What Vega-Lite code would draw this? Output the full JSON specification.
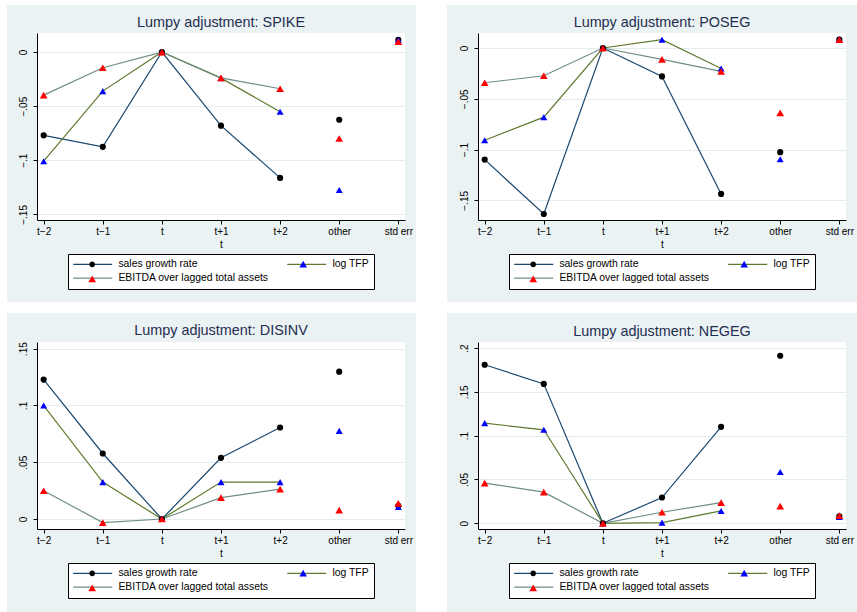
{
  "$schema": "https://vega.github.io/schema/vega-lite/v6.json",
  "background": "#eaf2f3",
  "padding": 0,
  "datasets": {
    "d": [
      {"p":"SPIKE","s":"sales growth rate","t":"t−2","v":-0.077},
      {"p":"SPIKE","s":"sales growth rate","t":"t−1","v":-0.0876},
      {"p":"SPIKE","s":"sales growth rate","t":"t","v":0},
      {"p":"SPIKE","s":"sales growth rate","t":"t+1","v":-0.068},
      {"p":"SPIKE","s":"sales growth rate","t":"t+2","v":-0.1163},
      {"p":"SPIKE","s":"sales growth rate","t":"other","v":-0.0626},
      {"p":"SPIKE","s":"sales growth rate","t":"std err","v":0.0114},
      {"p":"SPIKE","s":"log TFP","t":"t−2","v":-0.1009},
      {"p":"SPIKE","s":"log TFP","t":"t−1","v":-0.0361},
      {"p":"SPIKE","s":"log TFP","t":"t","v":0},
      {"p":"SPIKE","s":"log TFP","t":"t+1","v":-0.0241},
      {"p":"SPIKE","s":"log TFP","t":"t+2","v":-0.0552},
      {"p":"SPIKE","s":"log TFP","t":"other","v":-0.1275},
      {"p":"SPIKE","s":"log TFP","t":"std err","v":0.0114},
      {"p":"SPIKE","s":"EBITDA over lagged total assets","t":"t−2","v":-0.0398},
      {"p":"SPIKE","s":"EBITDA over lagged total assets","t":"t−1","v":-0.0145},
      {"p":"SPIKE","s":"EBITDA over lagged total assets","t":"t","v":0},
      {"p":"SPIKE","s":"EBITDA over lagged total assets","t":"t+1","v":-0.0238},
      {"p":"SPIKE","s":"EBITDA over lagged total assets","t":"t+2","v":-0.0339},
      {"p":"SPIKE","s":"EBITDA over lagged total assets","t":"other","v":-0.0799},
      {"p":"SPIKE","s":"EBITDA over lagged total assets","t":"std err","v":0.0096},

      {"p":"POSEG","s":"sales growth rate","t":"t−2","v":-0.1099},
      {"p":"POSEG","s":"sales growth rate","t":"t−1","v":-0.1635},
      {"p":"POSEG","s":"sales growth rate","t":"t","v":0},
      {"p":"POSEG","s":"sales growth rate","t":"t+1","v":-0.028},
      {"p":"POSEG","s":"sales growth rate","t":"t+2","v":-0.1437},
      {"p":"POSEG","s":"sales growth rate","t":"other","v":-0.1026},
      {"p":"POSEG","s":"sales growth rate","t":"std err","v":0.0082},
      {"p":"POSEG","s":"log TFP","t":"t−2","v":-0.0908},
      {"p":"POSEG","s":"log TFP","t":"t−1","v":-0.0681},
      {"p":"POSEG","s":"log TFP","t":"t","v":0},
      {"p":"POSEG","s":"log TFP","t":"t+1","v":0.0082},
      {"p":"POSEG","s":"log TFP","t":"t+2","v":-0.0201},
      {"p":"POSEG","s":"log TFP","t":"other","v":-0.1095},
      {"p":"POSEG","s":"log TFP","t":"std err","v":0.0086},
      {"p":"POSEG","s":"EBITDA over lagged total assets","t":"t−2","v":-0.0342},
      {"p":"POSEG","s":"EBITDA over lagged total assets","t":"t−1","v":-0.0273},
      {"p":"POSEG","s":"EBITDA over lagged total assets","t":"t","v":0},
      {"p":"POSEG","s":"EBITDA over lagged total assets","t":"t+1","v":-0.0112},
      {"p":"POSEG","s":"EBITDA over lagged total assets","t":"t+2","v":-0.023},
      {"p":"POSEG","s":"EBITDA over lagged total assets","t":"other","v":-0.0638},
      {"p":"POSEG","s":"EBITDA over lagged total assets","t":"std err","v":0.0082},

      {"p":"DISINV","s":"sales growth rate","t":"t−2","v":0.1228},
      {"p":"DISINV","s":"sales growth rate","t":"t−1","v":0.0577},
      {"p":"DISINV","s":"sales growth rate","t":"t","v":0},
      {"p":"DISINV","s":"sales growth rate","t":"t+1","v":0.0539},
      {"p":"DISINV","s":"sales growth rate","t":"t+2","v":0.0806},
      {"p":"DISINV","s":"sales growth rate","t":"other","v":0.1298},
      {"p":"DISINV","s":"sales growth rate","t":"std err","v":0.0117},
      {"p":"DISINV","s":"log TFP","t":"t−2","v":0.0999},
      {"p":"DISINV","s":"log TFP","t":"t−1","v":0.0325},
      {"p":"DISINV","s":"log TFP","t":"t","v":0},
      {"p":"DISINV","s":"log TFP","t":"t+1","v":0.0325},
      {"p":"DISINV","s":"log TFP","t":"t+2","v":0.0325},
      {"p":"DISINV","s":"log TFP","t":"other","v":0.0776},
      {"p":"DISINV","s":"log TFP","t":"std err","v":0.0105},
      {"p":"DISINV","s":"EBITDA over lagged total assets","t":"t−2","v":0.0249},
      {"p":"DISINV","s":"EBITDA over lagged total assets","t":"t−1","v":-0.0032},
      {"p":"DISINV","s":"EBITDA over lagged total assets","t":"t","v":0},
      {"p":"DISINV","s":"EBITDA over lagged total assets","t":"t+1","v":0.0188},
      {"p":"DISINV","s":"EBITDA over lagged total assets","t":"t+2","v":0.0264},
      {"p":"DISINV","s":"EBITDA over lagged total assets","t":"other","v":0.0079},
      {"p":"DISINV","s":"EBITDA over lagged total assets","t":"std err","v":0.0138},

      {"p":"NEGEG","s":"sales growth rate","t":"t−2","v":0.1809},
      {"p":"NEGEG","s":"sales growth rate","t":"t−1","v":0.1591},
      {"p":"NEGEG","s":"sales growth rate","t":"t","v":0},
      {"p":"NEGEG","s":"sales growth rate","t":"t+1","v":0.0294},
      {"p":"NEGEG","s":"sales growth rate","t":"t+2","v":0.1101},
      {"p":"NEGEG","s":"sales growth rate","t":"other","v":0.1912},
      {"p":"NEGEG","s":"sales growth rate","t":"std err","v":0.008},
      {"p":"NEGEG","s":"log TFP","t":"t−2","v":0.1143},
      {"p":"NEGEG","s":"log TFP","t":"t−1","v":0.1067},
      {"p":"NEGEG","s":"log TFP","t":"t","v":0},
      {"p":"NEGEG","s":"log TFP","t":"t+1","v":0.0008},
      {"p":"NEGEG","s":"log TFP","t":"t+2","v":0.0141},
      {"p":"NEGEG","s":"log TFP","t":"other","v":0.0585},
      {"p":"NEGEG","s":"log TFP","t":"std err","v":0.0073},
      {"p":"NEGEG","s":"EBITDA over lagged total assets","t":"t−2","v":0.0459},
      {"p":"NEGEG","s":"EBITDA over lagged total assets","t":"t−1","v":0.0356},
      {"p":"NEGEG","s":"EBITDA over lagged total assets","t":"t","v":0},
      {"p":"NEGEG","s":"EBITDA over lagged total assets","t":"t+1","v":0.0126},
      {"p":"NEGEG","s":"EBITDA over lagged total assets","t":"t+2","v":0.0237},
      {"p":"NEGEG","s":"EBITDA over lagged total assets","t":"other","v":0.0195},
      {"p":"NEGEG","s":"EBITDA over lagged total assets","t":"std err","v":0.0088}
    ]
  },
  "config": {
    "font": "Liberation Sans",
    "view": {"stroke": null},
    "title": {"font": "Liberation Sans", "fontSize": 14.4, "fontWeight": "normal", "color": "#1f2d50", "offset": 3, "anchor": "middle"},
    "axis": {"labelFont": "Liberation Sans", "labelFontSize": 10, "labelColor": "black", "domainColor": "black", "tickColor": "black", "tickSize": 4, "titleFont": "Liberation Sans", "titleFontSize": 10, "titleFontWeight": "normal", "titleColor": "black", "gridColor": "#e3ecee", "domainWidth": 1, "tickWidth": 1},
    "axisX": {"grid": false, "labelAngle": 0, "labelPadding": 2, "titlePadding": 3},
    "axisY": {"grid": true, "labelAngle": -90, "labelAlign": "center", "labelBaseline": "bottom", "labelPadding": 5},
    "legend": {"labelFont": "Liberation Sans", "orient": "none", "direction": "horizontal", "legendX": 31, "legendY": 221, "columns": 2, "columnPadding": 15, "rowPadding": 3, "padding": 5, "strokeColor": "black", "fillColor": "white", "symbolSize": 64, "symbolStrokeWidth": 1.2, "labelOffset": 35, "labelFontSize": 10.4, "labelColor": "black", "labelLimit": 0}
  },
  "resolve": {"scale": {"fill": "independent", "stroke": "independent", "shape": "independent", "size": "independent"}, "legend": {"fill": "independent", "stroke": "independent", "shape": "independent", "size": "independent"}},
  "columns": 8,
  "align": "each",
  "bounds": "flush",
  "spacing": 0,
  "concat": [
    {"width": 7, "height": 5, "data": {"values": []}, "mark": "point", "encoding": {}, "view": {"fill": "white"}},
    {"width": 30, "height": 5, "data": {"values": []}, "mark": "point", "encoding": {}, "view": {"fill": "white"}},
    {"width": 368, "height": 5, "data": {"values": []}, "mark": "point", "encoding": {}, "view": {"fill": "white"}},
    {"width": 11, "height": 5, "data": {"values": []}, "mark": "point", "encoding": {}, "view": {"fill": "white"}},
    {"width": 31, "height": 5, "data": {"values": []}, "mark": "point", "encoding": {}, "view": {"fill": "white"}},
    {"width": 31, "height": 5, "data": {"values": []}, "mark": "point", "encoding": {}, "view": {"fill": "white"}},
    {"width": 368, "height": 5, "data": {"values": []}, "mark": "point", "encoding": {}, "view": {"fill": "white"}},
    {"width": 11, "height": 5, "data": {"values": []}, "mark": "point", "encoding": {}, "view": {"fill": "white"}},

    {"width": 7, "height": 28, "data": {"values": []}, "mark": "point", "encoding": {}, "view": {"fill": "white"}},
    {"width": 30, "height": 28, "data": {"values": []}, "mark": "point", "encoding": {}},
    {"width": 368, "height": 28, "data": {"values": []}, "mark": "point", "encoding": {}},
    {"width": 11, "height": 28, "data": {"values": []}, "mark": "point", "encoding": {}},
    {"width": 31, "height": 28, "data": {"values": []}, "mark": "point", "encoding": {}, "view": {"fill": "white"}},
    {"width": 31, "height": 28, "data": {"values": []}, "mark": "point", "encoding": {}},
    {"width": 368, "height": 28, "data": {"values": []}, "mark": "point", "encoding": {}},
    {"width": 11, "height": 28, "data": {"values": []}, "mark": "point", "encoding": {}},

    {"width": 7, "height": 187, "data": {"values": []}, "mark": "point", "encoding": {}, "view": {"fill": "white"}},
    {"width": 30, "height": 187, "data": {"values": []}, "mark": "point", "encoding": {}},
    {
      "width": 368, "height": 187,
      "view": {"fill": "white"},
      "title": "Lumpy adjustment: SPIKE",
      "data": {"name": "d"},
      "transform": [{"filter": "datum.p === 'SPIKE'"}],
      "encoding": {
        "x": {"field": "t", "type": "ordinal", "scale": {"type": "point", "domain": ["t−2","t−1","t","t+1","t+2","other","std err"], "padding": 0.113}, "axis": {"title": "t"}},
        "y": {"field": "v", "type": "quantitative", "scale": {"domain": [-0.1552, 0.0176], "nice": false, "zero": false}, "axis": {"title": null, "values": [0, -0.05, -0.1, -0.15], "labelExpr": "datum.value == 0 ? '0' : replace(format(datum.value, '.2~f'), '0.', '.')"}}
      },
      "resolve": {"scale": {"fill": "independent", "stroke": "independent", "shape": "independent", "size": "independent"}, "legend": {"fill": "independent", "stroke": "independent", "shape": "independent", "size": "independent"}},
      "layer": [
        {"transform": [{"filter": {"not": {"field": "t", "oneOf": ["other", "std err"]}}}], "mark": {"type": "line", "strokeWidth": 1.2}, "encoding": {"order": {"value": null}, "stroke": {"field": "s", "type": "nominal", "scale": {"domain": ["sales growth rate", "log TFP", "EBITDA over lagged total assets"], "range": ["#1a476f", "#5e7a2c", "#6e8e84"]}, "legend": null}}},
        {"mark": {"type": "point", "filled": true, "opacity": 1}, "encoding": {
          "shape": {"field": "s", "type": "nominal", "scale": {"domain": ["sales growth rate", "log TFP", "EBITDA over lagged total assets"], "range": ["circle", "triangle-up", "triangle-up"]}, "legend": null},
          "size": {"field": "s", "type": "nominal", "scale": {"domain": ["sales growth rate", "log TFP", "EBITDA over lagged total assets"], "range": [38, 60, 60]}, "legend": null},
          "fill": {"field": "s", "type": "nominal", "scale": {"domain": ["sales growth rate", "log TFP", "EBITDA over lagged total assets"], "range": ["black", "blue", "red"]}, "legend": null}
        }},
        {"data": {"values": []}, "mark": {"type": "point", "filled": false, "size": 64, "strokeWidth": 1.2, "opacity": 1}, "encoding": {
          "shape": {"field": "s", "type": "nominal", "scale": {"domain": ["sales growth rate", "log TFP", "EBITDA over lagged total assets"], "range": ["M-1.25,0H8.5", "M-1.25,0H8.5", "M-1.25,0H8.5"]}, "legend": {"title": null, "zindex": 1}},
          "stroke": {"field": "s", "type": "nominal", "scale": {"domain": ["sales growth rate", "log TFP", "EBITDA over lagged total assets"], "range": ["#1a476f", "#5e7a2c", "#6e8e84"]}, "legend": {"title": null, "zindex": 1}}
        }},
        {"data": {"values": []}, "mark": {"type": "point", "filled": true, "size": 64, "opacity": 1}, "encoding": {
          "shape": {"field": "s", "type": "nominal", "scale": {"domain": ["sales growth rate", "log TFP", "EBITDA over lagged total assets"], "range": ["M2.8,0A0.7,0.7 0 1,0 4.2,0A0.7,0.7 0 1,0 2.8,0Z", "M3.5,-0.9L4.45,0.75L2.55,0.75Z", "M3.5,-0.9L4.45,0.75L2.55,0.75Z"]}, "legend": {"title": null, "zindex": 2, "fillColor": "transparent", "strokeColor": "transparent", "labelOpacity": 0, "labelExpr": "''", "columnPadding": 165}},
          "fill": {"field": "s", "type": "nominal", "scale": {"domain": ["sales growth rate", "log TFP", "EBITDA over lagged total assets"], "range": ["black", "blue", "red"]}, "legend": {"title": null, "zindex": 2, "fillColor": "transparent", "strokeColor": "transparent", "labelOpacity": 0, "labelExpr": "''", "columnPadding": 165}}
        }}
      ]
    },
    {"width": 11, "height": 187, "data": {"values": []}, "mark": "point", "encoding": {}},
    {"width": 31, "height": 187, "data": {"values": []}, "mark": "point", "encoding": {}, "view": {"fill": "white"}},
    {"width": 31, "height": 187, "data": {"values": []}, "mark": "point", "encoding": {}},
    {
      "width": 368, "height": 187,
      "view": {"fill": "white"},
      "title": "Lumpy adjustment: POSEG",
      "data": {"name": "d"},
      "transform": [{"filter": "datum.p === 'POSEG'"}],
      "encoding": {
        "x": {"field": "t", "type": "ordinal", "scale": {"type": "point", "domain": ["t−2","t−1","t","t+1","t+2","other","std err"], "padding": 0.113}, "axis": {"title": "t"}},
        "y": {"field": "v", "type": "quantitative", "scale": {"domain": [-0.1694, 0.0148], "nice": false, "zero": false}, "axis": {"title": null, "values": [0, -0.05, -0.1, -0.15], "labelExpr": "datum.value == 0 ? '0' : replace(format(datum.value, '.2~f'), '0.', '.')"}}
      },
      "resolve": {"scale": {"fill": "independent", "stroke": "independent", "shape": "independent", "size": "independent"}, "legend": {"fill": "independent", "stroke": "independent", "shape": "independent", "size": "independent"}},
      "layer": [
        {"transform": [{"filter": {"not": {"field": "t", "oneOf": ["other", "std err"]}}}], "mark": {"type": "line", "strokeWidth": 1.2}, "encoding": {"order": {"value": null}, "stroke": {"field": "s", "type": "nominal", "scale": {"domain": ["sales growth rate", "log TFP", "EBITDA over lagged total assets"], "range": ["#1a476f", "#5e7a2c", "#6e8e84"]}, "legend": null}}},
        {"mark": {"type": "point", "filled": true, "opacity": 1}, "encoding": {
          "shape": {"field": "s", "type": "nominal", "scale": {"domain": ["sales growth rate", "log TFP", "EBITDA over lagged total assets"], "range": ["circle", "triangle-up", "triangle-up"]}, "legend": null},
          "size": {"field": "s", "type": "nominal", "scale": {"domain": ["sales growth rate", "log TFP", "EBITDA over lagged total assets"], "range": [38, 60, 60]}, "legend": null},
          "fill": {"field": "s", "type": "nominal", "scale": {"domain": ["sales growth rate", "log TFP", "EBITDA over lagged total assets"], "range": ["black", "blue", "red"]}, "legend": null}
        }},
        {"data": {"values": []}, "mark": {"type": "point", "filled": false, "size": 64, "strokeWidth": 1.2, "opacity": 1}, "encoding": {
          "shape": {"field": "s", "type": "nominal", "scale": {"domain": ["sales growth rate", "log TFP", "EBITDA over lagged total assets"], "range": ["M-1.25,0H8.5", "M-1.25,0H8.5", "M-1.25,0H8.5"]}, "legend": {"title": null, "zindex": 1}},
          "stroke": {"field": "s", "type": "nominal", "scale": {"domain": ["sales growth rate", "log TFP", "EBITDA over lagged total assets"], "range": ["#1a476f", "#5e7a2c", "#6e8e84"]}, "legend": {"title": null, "zindex": 1}}
        }},
        {"data": {"values": []}, "mark": {"type": "point", "filled": true, "size": 64, "opacity": 1}, "encoding": {
          "shape": {"field": "s", "type": "nominal", "scale": {"domain": ["sales growth rate", "log TFP", "EBITDA over lagged total assets"], "range": ["M2.8,0A0.7,0.7 0 1,0 4.2,0A0.7,0.7 0 1,0 2.8,0Z", "M3.5,-0.9L4.45,0.75L2.55,0.75Z", "M3.5,-0.9L4.45,0.75L2.55,0.75Z"]}, "legend": {"title": null, "zindex": 2, "fillColor": "transparent", "strokeColor": "transparent", "labelOpacity": 0, "labelExpr": "''", "columnPadding": 165}},
          "fill": {"field": "s", "type": "nominal", "scale": {"domain": ["sales growth rate", "log TFP", "EBITDA over lagged total assets"], "range": ["black", "blue", "red"]}, "legend": {"title": null, "zindex": 2, "fillColor": "transparent", "strokeColor": "transparent", "labelOpacity": 0, "labelExpr": "''", "columnPadding": 165}}
        }}
      ]
    },
    {"width": 11, "height": 187, "data": {"values": []}, "mark": "point", "encoding": {}},

    {"width": 7, "height": 82, "data": {"values": []}, "mark": "point", "encoding": {}, "view": {"fill": "white"}},
    {"width": 30, "height": 82, "data": {"values": []}, "mark": "point", "encoding": {}},
    {"width": 368, "height": 82, "data": {"values": []}, "mark": "point", "encoding": {}},
    {"width": 11, "height": 82, "data": {"values": []}, "mark": "point", "encoding": {}},
    {"width": 31, "height": 82, "data": {"values": []}, "mark": "point", "encoding": {}, "view": {"fill": "white"}},
    {"width": 31, "height": 82, "data": {"values": []}, "mark": "point", "encoding": {}},
    {"width": 368, "height": 82, "data": {"values": []}, "mark": "point", "encoding": {}},
    {"width": 11, "height": 82, "data": {"values": []}, "mark": "point", "encoding": {}},

    {"width": 7, "height": 11, "data": {"values": []}, "mark": "point", "encoding": {}, "view": {"fill": "white"}},
    {"width": 30, "height": 11, "data": {"values": []}, "mark": "point", "encoding": {}, "view": {"fill": "white"}},
    {"width": 368, "height": 11, "data": {"values": []}, "mark": "point", "encoding": {}, "view": {"fill": "white"}},
    {"width": 11, "height": 11, "data": {"values": []}, "mark": "point", "encoding": {}, "view": {"fill": "white"}},
    {"width": 31, "height": 11, "data": {"values": []}, "mark": "point", "encoding": {}, "view": {"fill": "white"}},
    {"width": 31, "height": 11, "data": {"values": []}, "mark": "point", "encoding": {}, "view": {"fill": "white"}},
    {"width": 368, "height": 11, "data": {"values": []}, "mark": "point", "encoding": {}, "view": {"fill": "white"}},
    {"width": 11, "height": 11, "data": {"values": []}, "mark": "point", "encoding": {}, "view": {"fill": "white"}},

    {"width": 7, "height": 29, "data": {"values": []}, "mark": "point", "encoding": {}, "view": {"fill": "white"}},
    {"width": 30, "height": 29, "data": {"values": []}, "mark": "point", "encoding": {}},
    {"width": 368, "height": 29, "data": {"values": []}, "mark": "point", "encoding": {}},
    {"width": 11, "height": 29, "data": {"values": []}, "mark": "point", "encoding": {}},
    {"width": 31, "height": 29, "data": {"values": []}, "mark": "point", "encoding": {}, "view": {"fill": "white"}},
    {"width": 31, "height": 29, "data": {"values": []}, "mark": "point", "encoding": {}},
    {"width": 368, "height": 29, "data": {"values": []}, "mark": "point", "encoding": {}},
    {"width": 11, "height": 29, "data": {"values": []}, "mark": "point", "encoding": {}},

    {"width": 7, "height": 187, "data": {"values": []}, "mark": "point", "encoding": {}, "view": {"fill": "white"}},
    {"width": 30, "height": 187, "data": {"values": []}, "mark": "point", "encoding": {}},
    {
      "width": 368, "height": 187,
      "view": {"fill": "white"},
      "title": "Lumpy adjustment: DISINV",
      "data": {"name": "d"},
      "transform": [{"filter": "datum.p === 'DISINV'"}],
      "encoding": {
        "x": {"field": "t", "type": "ordinal", "scale": {"type": "point", "domain": ["t−2","t−1","t","t+1","t+2","other","std err"], "padding": 0.113}, "axis": {"title": "t"}},
        "y": {"field": "v", "type": "quantitative", "scale": {"domain": [-0.0088, 0.1559], "nice": false, "zero": false}, "axis": {"title": null, "values": [0, 0.05, 0.1, 0.15], "labelExpr": "datum.value == 0 ? '0' : replace(format(datum.value, '.2~f'), '0.', '.')"}}
      },
      "resolve": {"scale": {"fill": "independent", "stroke": "independent", "shape": "independent", "size": "independent"}, "legend": {"fill": "independent", "stroke": "independent", "shape": "independent", "size": "independent"}},
      "layer": [
        {"transform": [{"filter": {"not": {"field": "t", "oneOf": ["other", "std err"]}}}], "mark": {"type": "line", "strokeWidth": 1.2}, "encoding": {"order": {"value": null}, "stroke": {"field": "s", "type": "nominal", "scale": {"domain": ["sales growth rate", "log TFP", "EBITDA over lagged total assets"], "range": ["#1a476f", "#5e7a2c", "#6e8e84"]}, "legend": null}}},
        {"mark": {"type": "point", "filled": true, "opacity": 1}, "encoding": {
          "shape": {"field": "s", "type": "nominal", "scale": {"domain": ["sales growth rate", "log TFP", "EBITDA over lagged total assets"], "range": ["circle", "triangle-up", "triangle-up"]}, "legend": null},
          "size": {"field": "s", "type": "nominal", "scale": {"domain": ["sales growth rate", "log TFP", "EBITDA over lagged total assets"], "range": [38, 60, 60]}, "legend": null},
          "fill": {"field": "s", "type": "nominal", "scale": {"domain": ["sales growth rate", "log TFP", "EBITDA over lagged total assets"], "range": ["black", "blue", "red"]}, "legend": null}
        }},
        {"data": {"values": []}, "mark": {"type": "point", "filled": false, "size": 64, "strokeWidth": 1.2, "opacity": 1}, "encoding": {
          "shape": {"field": "s", "type": "nominal", "scale": {"domain": ["sales growth rate", "log TFP", "EBITDA over lagged total assets"], "range": ["M-1.25,0H8.5", "M-1.25,0H8.5", "M-1.25,0H8.5"]}, "legend": {"title": null, "zindex": 1}},
          "stroke": {"field": "s", "type": "nominal", "scale": {"domain": ["sales growth rate", "log TFP", "EBITDA over lagged total assets"], "range": ["#1a476f", "#5e7a2c", "#6e8e84"]}, "legend": {"title": null, "zindex": 1}}
        }},
        {"data": {"values": []}, "mark": {"type": "point", "filled": true, "size": 64, "opacity": 1}, "encoding": {
          "shape": {"field": "s", "type": "nominal", "scale": {"domain": ["sales growth rate", "log TFP", "EBITDA over lagged total assets"], "range": ["M2.8,0A0.7,0.7 0 1,0 4.2,0A0.7,0.7 0 1,0 2.8,0Z", "M3.5,-0.9L4.45,0.75L2.55,0.75Z", "M3.5,-0.9L4.45,0.75L2.55,0.75Z"]}, "legend": {"title": null, "zindex": 2, "fillColor": "transparent", "strokeColor": "transparent", "labelOpacity": 0, "labelExpr": "''", "columnPadding": 165}},
          "fill": {"field": "s", "type": "nominal", "scale": {"domain": ["sales growth rate", "log TFP", "EBITDA over lagged total assets"], "range": ["black", "blue", "red"]}, "legend": {"title": null, "zindex": 2, "fillColor": "transparent", "strokeColor": "transparent", "labelOpacity": 0, "labelExpr": "''", "columnPadding": 165}}
        }}
      ]
    },
    {"width": 11, "height": 187, "data": {"values": []}, "mark": "point", "encoding": {}},
    {"width": 31, "height": 187, "data": {"values": []}, "mark": "point", "encoding": {}, "view": {"fill": "white"}},
    {"width": 31, "height": 187, "data": {"values": []}, "mark": "point", "encoding": {}},
    {
      "width": 368, "height": 187,
      "view": {"fill": "white"},
      "title": "Lumpy adjustment: NEGEG",
      "data": {"name": "d"},
      "transform": [{"filter": "datum.p === 'NEGEG'"}],
      "encoding": {
        "x": {"field": "t", "type": "ordinal", "scale": {"type": "point", "domain": ["t−2","t−1","t","t+1","t+2","other","std err"], "padding": 0.113}, "axis": {"title": "t"}},
        "y": {"field": "v", "type": "quantitative", "scale": {"domain": [-0.0065, 0.2069], "nice": false, "zero": false}, "axis": {"title": null, "values": [0, 0.05, 0.1, 0.15, 0.2], "labelExpr": "datum.value == 0 ? '0' : replace(format(datum.value, '.2~f'), '0.', '.')"}}
      },
      "resolve": {"scale": {"fill": "independent", "stroke": "independent", "shape": "independent", "size": "independent"}, "legend": {"fill": "independent", "stroke": "independent", "shape": "independent", "size": "independent"}},
      "layer": [
        {"transform": [{"filter": {"not": {"field": "t", "oneOf": ["other", "std err"]}}}], "mark": {"type": "line", "strokeWidth": 1.2}, "encoding": {"order": {"value": null}, "stroke": {"field": "s", "type": "nominal", "scale": {"domain": ["sales growth rate", "log TFP", "EBITDA over lagged total assets"], "range": ["#1a476f", "#5e7a2c", "#6e8e84"]}, "legend": null}}},
        {"mark": {"type": "point", "filled": true, "opacity": 1}, "encoding": {
          "shape": {"field": "s", "type": "nominal", "scale": {"domain": ["sales growth rate", "log TFP", "EBITDA over lagged total assets"], "range": ["circle", "triangle-up", "triangle-up"]}, "legend": null},
          "size": {"field": "s", "type": "nominal", "scale": {"domain": ["sales growth rate", "log TFP", "EBITDA over lagged total assets"], "range": [38, 60, 60]}, "legend": null},
          "fill": {"field": "s", "type": "nominal", "scale": {"domain": ["sales growth rate", "log TFP", "EBITDA over lagged total assets"], "range": ["black", "blue", "red"]}, "legend": null}
        }},
        {"data": {"values": []}, "mark": {"type": "point", "filled": false, "size": 64, "strokeWidth": 1.2, "opacity": 1}, "encoding": {
          "shape": {"field": "s", "type": "nominal", "scale": {"domain": ["sales growth rate", "log TFP", "EBITDA over lagged total assets"], "range": ["M-1.25,0H8.5", "M-1.25,0H8.5", "M-1.25,0H8.5"]}, "legend": {"title": null, "zindex": 1}},
          "stroke": {"field": "s", "type": "nominal", "scale": {"domain": ["sales growth rate", "log TFP", "EBITDA over lagged total assets"], "range": ["#1a476f", "#5e7a2c", "#6e8e84"]}, "legend": {"title": null, "zindex": 1}}
        }},
        {"data": {"values": []}, "mark": {"type": "point", "filled": true, "size": 64, "opacity": 1}, "encoding": {
          "shape": {"field": "s", "type": "nominal", "scale": {"domain": ["sales growth rate", "log TFP", "EBITDA over lagged total assets"], "range": ["M2.8,0A0.7,0.7 0 1,0 4.2,0A0.7,0.7 0 1,0 2.8,0Z", "M3.5,-0.9L4.45,0.75L2.55,0.75Z", "M3.5,-0.9L4.45,0.75L2.55,0.75Z"]}, "legend": {"title": null, "zindex": 2, "fillColor": "transparent", "strokeColor": "transparent", "labelOpacity": 0, "labelExpr": "''", "columnPadding": 165}},
          "fill": {"field": "s", "type": "nominal", "scale": {"domain": ["sales growth rate", "log TFP", "EBITDA over lagged total assets"], "range": ["black", "blue", "red"]}, "legend": {"title": null, "zindex": 2, "fillColor": "transparent", "strokeColor": "transparent", "labelOpacity": 0, "labelExpr": "''", "columnPadding": 165}}
        }}
      ]
    },
    {"width": 11, "height": 187, "data": {"values": []}, "mark": "point", "encoding": {}},

    {"width": 7, "height": 83, "data": {"values": []}, "mark": "point", "encoding": {}, "view": {"fill": "white"}},
    {"width": 30, "height": 83, "data": {"values": []}, "mark": "point", "encoding": {}},
    {"width": 368, "height": 83, "data": {"values": []}, "mark": "point", "encoding": {}},
    {"width": 11, "height": 83, "data": {"values": []}, "mark": "point", "encoding": {}},
    {"width": 31, "height": 83, "data": {"values": []}, "mark": "point", "encoding": {}, "view": {"fill": "white"}},
    {"width": 31, "height": 83, "data": {"values": []}, "mark": "point", "encoding": {}},
    {"width": 368, "height": 83, "data": {"values": []}, "mark": "point", "encoding": {}},
    {"width": 11, "height": 83, "data": {"values": []}, "mark": "point", "encoding": {}}
  ]
}
